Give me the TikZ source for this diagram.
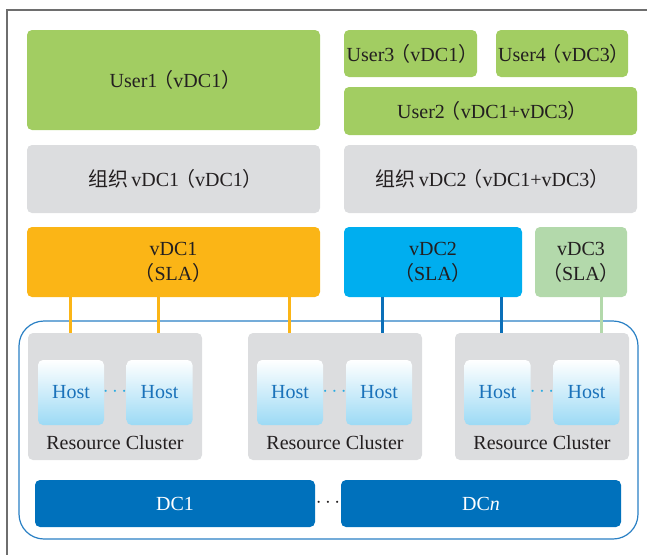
\documentclass[tikz,border=0pt]{standalone}
\usepackage{fontspec}
\setmainfont{Liberation Serif}
\newfontfamily\cjk{Noto Sans CJK SC}
\newcommand{\lpar}{\kern-4pt{\cjk （}}
\newcommand{\rpar}{{\cjk ）}\kern-4pt}
\newcommand{\zuzhi}{{\cjk 组织}}
\definecolor{usergreen}{HTML}{A2CD62}
\definecolor{orggray}{HTML}{DCDDDF}
\definecolor{vdcorange}{HTML}{FBB516}
\definecolor{vdccyan}{HTML}{00AEEF}
\definecolor{vdclight}{HTML}{B3D9AB}
\definecolor{linkblue}{HTML}{0B6FB8}
\definecolor{outerblue}{HTML}{2A80C4}
\definecolor{dcblue}{HTML}{0071BC}
\definecolor{hostblue}{HTML}{9CDAF5}
\definecolor{hosttext}{HTML}{1A72BA}
\definecolor{dotcyan}{HTML}{29ABE2}
\definecolor{txt}{HTML}{231F20}
\definecolor{framegray}{HTML}{6E6E6E}
\begin{document}
\begin{tikzpicture}[x=1pt,y=-1pt,font=\fontsize{20}{25}\selectfont,
  box/.style={rounded corners=5pt,inner sep=0pt,text=txt,align=center},
  userbox/.style={box,fill=usergreen},
  orgbox/.style={box,fill=orggray},
  clusterbox/.style={box,fill=orggray,minimum width=174,minimum height=127},
  hostbox/.style={rounded corners=5pt,inner sep=0pt,top color=white,bottom color=hostblue,
     minimum width=66,minimum height=65,text=hosttext},
  rclabel/.style={text=txt,inner sep=0pt},
  hdots/.style={text=dotcyan,inner sep=0pt,font=\fontsize{22}{22}\selectfont},
  dcbox/.style={rounded corners=5pt,inner sep=0pt,fill=dcblue,text=white,minimum width=280,minimum height=47},
  link/.style={line width=3pt}]
\useasboundingbox (0,0) rectangle (647,555);
% frame
\draw[framegray,line width=1.3pt] (647,10) -- (7,10) -- (7,555);
% users and organisations
\node[userbox,minimum width=293,minimum height=100] (u1) at (173.5,80) {User1\lpar vDC1\rpar};
\node[orgbox,minimum width=293,minimum height=68] (o1) at (173.5,179) {\zuzhi\,vDC1\lpar vDC1\rpar};
\node[userbox,minimum width=133,minimum height=47] (u3) at (410.5,53.5) {User3\lpar vDC1\rpar};
\node[userbox,minimum width=132,minimum height=47] (u4) at (562,53.5) {User4\lpar vDC3\rpar};
\node[userbox,minimum width=293,minimum height=48] (u2) at (490.5,111) {User2\lpar vDC1+vDC3\rpar};
\node[orgbox,minimum width=293,minimum height=68] (o2) at (490.5,179) {\zuzhi\,vDC2\lpar vDC1+vDC3\rpar};
% vDCs
\node[box,fill=vdcorange,minimum width=293,minimum height=70] (v1) at (173.5,262) {vDC1\\\lpar SLA\rpar};
\node[box,fill=vdccyan,minimum width=178,minimum height=70] (v2) at (433,262) {vDC2\\\lpar SLA\rpar};
\node[box,fill=vdclight,minimum width=92,minimum height=70] (v3) at (581,262) {vDC3\\\lpar SLA\rpar};
% outer container
\node[draw=outerblue,line width=1.2pt,rounded corners=25pt,minimum width=619,minimum height=218,inner sep=0pt] (dcs) at (328.5,430) {};
% clusters
\node[clusterbox] (rc1) at (115,396.5) {};
\node[clusterbox] (rc2) at (335,396.5) {};
\node[clusterbox] (rc3) at (542,396.5) {};
\node[hostbox] (h11) at (71,392.5) {Host};
\node[hostbox] (h12) at (159.5,392.5) {Host};
\node[hostbox] (h21) at (290,392.5) {Host};
\node[hostbox] (h22) at (379,392.5) {Host};
\node[hostbox] (h31) at (497.5,392.5) {Host};
\node[hostbox] (h32) at (586.5,392.5) {Host};
\node[hdots] (d1) at (115,392) {$\cdots$};
\node[hdots] (d2) at (334.5,392) {$\cdots$};
\node[hdots] (d3) at (542,392) {$\cdots$};
\node[rclabel] (l1) at (115,443) {Resource Cluster};
\node[rclabel] (l2) at (335,443) {Resource Cluster};
\node[rclabel] (l3) at (542,443) {Resource Cluster};
% data centres
\node[dcbox] (dc1) at (175,503.5) {DC1};
\node[dcbox] (dcn) at (481,503.5) {DC\textit{n}};
\node[text=txt,inner sep=0pt] (dd) at (328,503) {$\cdots$};
% links
\coordinate (x1) at (70,0);
\coordinate (x2) at (158,0);
\coordinate (x3) at (289,0);
\coordinate (x4) at (382,0);
\coordinate (x5) at (501,0);
\coordinate (x6) at (601,0);
\draw[link,vdcorange] (v1.south -| x1) -- (rc1.north -| x1);
\draw[link,vdcorange] (v1.south -| x2) -- (rc1.north -| x2);
\draw[link,vdcorange] (v1.south -| x3) -- (rc2.north -| x3);
\draw[link,linkblue] (v2.south -| x4) -- (rc2.north -| x4);
\draw[link,linkblue] (v2.south -| x5) -- (rc3.north -| x5);
\draw[link,vdclight] (v3.south -| x6) -- (rc3.north -| x6);
\end{tikzpicture}
\end{document}
